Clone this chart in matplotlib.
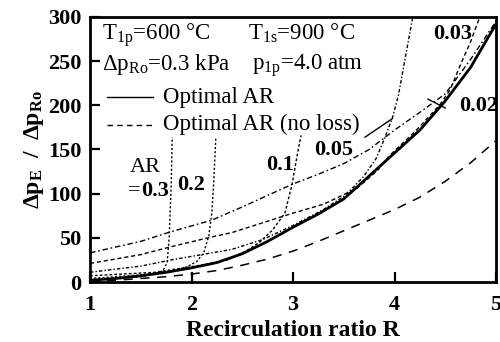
#!/usr/bin/env python3
"""Pressure ratio vs recirculation ratio for several AR values."""

import matplotlib
matplotlib.use('Agg')
import matplotlib.pyplot as plt

plt.rcParams['font.family'] = ['Liberation Serif', 'DejaVu Serif']
plt.rcParams['mathtext.fontset'] = 'custom'
plt.rcParams['mathtext.rm'] = 'Liberation Serif'
plt.rcParams['mathtext.it'] = 'Liberation Serif:italic'
plt.rcParams['mathtext.bf'] = 'Liberation Serif:bold'

# --- data ---
R_opt = [1.0, 1.25, 1.5, 1.75, 2.0, 2.25, 2.5, 2.75, 3.0, 3.25, 3.5,
         3.75, 4.0, 4.25, 4.5, 4.75, 5.0]
dp_opt = [2, 4, 7, 11, 16, 22, 32, 46, 62, 77, 94, 120, 146, 172, 205, 243, 292]

R_noloss = [1.0, 1.25, 1.5, 1.75, 2.0, 2.25, 2.5, 2.75, 3.0, 3.25, 3.5,
            3.75, 4.0, 4.25, 4.5, 4.75, 5.0]
dp_noloss = [1, 2, 4, 6, 9, 13, 19, 26, 35, 46, 58, 70, 82, 96, 114, 135, 160]

R_ar03 = [1.0, 1.3, 1.5, 1.65, 1.72, 1.76, 1.78, 1.80, 1.81]
dp_ar03 = [2.5, 4, 6, 9, 13, 22, 50, 110, 164]

R_ar02 = [1.0, 1.5, 1.8, 1.95, 2.05, 2.12, 2.17, 2.20, 2.22, 2.24]
dp_ar02 = [4, 8, 12, 17, 23, 33, 52, 78, 115, 164]

R_ar01 = [1.0, 1.64, 2.09, 2.36, 2.55, 2.67, 2.80, 2.92, 2.99, 3.05, 3.08]
dp_ar01 = [7, 11, 19, 25, 36, 45, 59, 78, 110, 149, 166]

R_ar005 = [1.0, 1.5, 1.8, 2.2, 2.4, 2.7, 3.0, 3.3, 3.5, 3.6, 3.7, 3.82,
           3.9, 3.98, 4.04, 4.1, 4.18]
dp_ar005 = [11, 18, 25, 33, 37, 48, 64, 82, 97, 108, 120, 140, 162, 186,
            212, 250, 300]

R_ar003 = [1.0, 1.5, 1.8, 2.2, 2.4, 2.7, 3.0, 3.3, 3.63, 3.83, 3.95, 4.2,
           4.45, 4.55, 4.65, 4.75, 4.84]
dp_ar003 = [21, 31, 40, 51, 56, 67, 78, 88, 106, 126, 143, 170, 201, 218,
            246, 272, 300]

R_ar002 = [1.0, 1.5, 1.8, 2.2, 2.5, 2.75, 3.0, 3.25, 3.5, 3.75, 4.0, 4.25,
           4.5, 4.75, 5.0]
dp_ar002 = [33, 46, 57, 70, 85, 98, 111, 122, 134, 150, 172, 192, 213, 252, 295]

fig = plt.figure(figsize=(5.0, 3.42), dpi=100)
ax = fig.add_axes([0.18, 0.1754, 0.812, 0.775])

thin = dict(color='black', lw=1.0)
ax.plot(R_ar03, dp_ar03, ls=(0, (1.5, 1.5)), **thin)
ax.plot(R_ar02, dp_ar02, ls=(0, (1.5, 1.5)), **thin)
ax.plot(R_ar01, dp_ar01, ls=(0, (2, 1.5)), **thin)
ax.plot(R_ar005, dp_ar005, ls=(0, (2.5, 1.5, 1, 1.5)), **thin)
ax.plot(R_ar003, dp_ar003, ls=(0, (3, 2)), **thin)
ax.plot(R_ar002, dp_ar002, ls=(0, (4, 2, 1.2, 2)), **thin)
ax.plot(R_opt, dp_opt, color='black', lw=2.0)
ax.plot(R_noloss, dp_noloss, color='black', lw=1.1, ls=(0, (6, 5)))

# legend drawn by hand like the original
ax.plot([1.17, 1.62], [209, 209], color='black', lw=1.0)
ax.plot([1.17, 1.62], [178, 178], color='black', lw=1.0, ls=(0, (4, 3)))
ax.text(1.72, 209, "Optimal AR", fontsize=16.5, va='center')
ax.text(1.72, 178, "Optimal AR (no loss)", fontsize=16.5, va='center')

ax.text(1.12, 274, r"T$_{\rm 1p}$=600 °C", fontsize=16.5, va='baseline')
ax.text(2.56, 274, r"T$_{\rm 1s}$=900 °C", fontsize=16.5, va='baseline')
ax.text(1.12, 240, r"Δp$_{\rm Ro}$=0.3 kPa", fontsize=16.5, va='baseline')
ax.text(2.6, 240, r"p$_{\rm 1p}$=4.0 atm", fontsize=16.5, va='baseline')

# AR labels
ax.text(1.54, 130, "AR", fontsize=16, ha='center', va='center')
ax.text(1.50, 103, "=", fontsize=16, ha='right', va='center')
ax.text(1.64, 103, "0.3", fontsize=16, fontweight='bold', ha='center', va='center')
ax.text(2.0, 110, "0.2", fontsize=16, fontweight='bold', ha='center', va='center')
ax.text(2.87, 132, "0.1", fontsize=16, fontweight='bold', ha='center', va='center')
ax.text(3.4, 149, "0.05", fontsize=16, fontweight='bold', ha='center', va='center')
ax.text(4.57, 281, "0.03", fontsize=16, fontweight='bold', ha='center', va='center')
ax.text(4.83, 199, "0.02", fontsize=16, fontweight='bold', ha='center', va='center')
ax.plot([3.71, 3.98], [164, 185], color='black', lw=1.0)
ax.plot([4.33, 4.5], [207, 197], color='black', lw=1.0)

ax.set_xlim(1, 5)
ax.set_ylim(0, 300)
ax.set_xticks([1, 2, 3, 4, 5])
ax.set_yticks([0, 50, 100, 150, 200, 250, 300])
ax.tick_params(direction='in', length=7, width=1.6, labelsize=16, pad=6,
               top=False, right=False)
ax.tick_params(axis='x', pad=9)
for lab in ax.get_xticklabels() + ax.get_yticklabels():
    lab.set_fontweight('bold')
for sp in ax.spines.values():
    sp.set_linewidth(2.0)

ax.set_xlabel("Recirculation ratio R", fontsize=17, fontweight='bold', labelpad=4)
ax.set_ylabel(r"$\mathbf{\Delta p_E\ \ /\ \ \Delta p_{Ro}}$", fontsize=17, labelpad=2)

fig.savefig("out.png", dpi=100)
